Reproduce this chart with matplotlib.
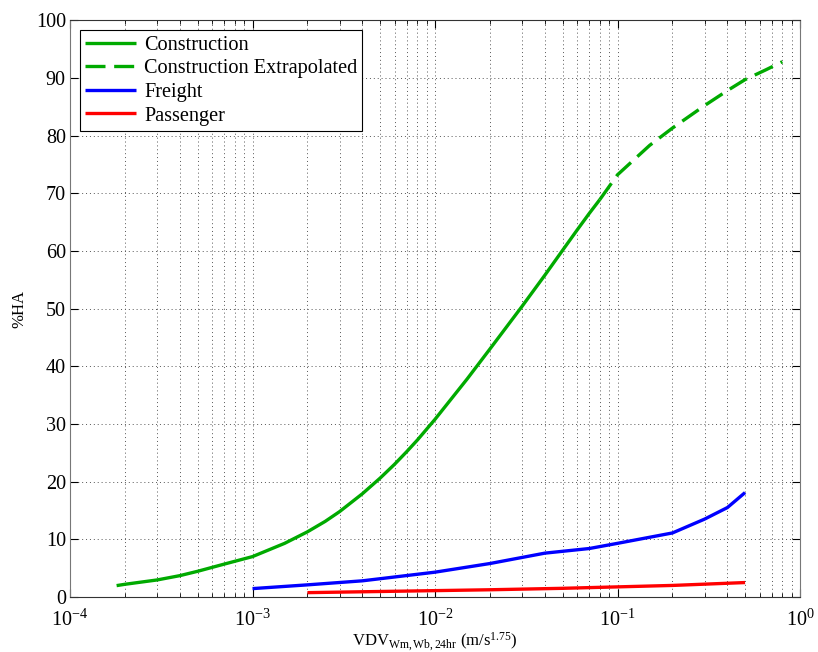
import matplotlib
matplotlib.use("Agg")
import matplotlib.pyplot as plt
from matplotlib.ticker import LogLocator, NullFormatter, MultipleLocator

plt.rcParams['font.family'] = ['Liberation Serif', 'DejaVu Serif']
plt.rcParams['mathtext.fontset'] = 'custom'
plt.rcParams['mathtext.rm'] = 'Liberation Serif'
plt.rcParams['mathtext.it'] = 'Liberation Serif:italic'

# Datos
x_const = [1.8e-4, 2e-4, 3e-4, 4e-4, 5e-4, 7e-4, 1e-3, 1.5e-3, 2e-3, 2.5e-3, 3e-3, 4e-3, 5e-3,
           6e-3, 7e-3, 8e-3, 9e-3, 1e-2, 1.5e-2, 2e-2, 3e-2, 4e-2, 5e-2, 6e-2, 7e-2, 8e-2]
y_const = [1.97, 2.2, 2.95, 3.7, 4.45, 5.7, 7.0, 9.3, 11.3, 13.1, 14.8, 17.9, 20.6,
           23.0, 25.2, 27.2, 29.1, 30.8, 37.8, 43.0, 50.4, 55.8, 60.1, 63.6, 66.5, 68.9]

x_extra = [8e-2, 0.1, 0.15, 0.2, 0.3, 0.4, 0.5, 0.65, 0.8]
y_extra = [68.9, 73.2, 78.3, 81.3, 85.2, 87.8, 89.7, 91.4, 92.8]

x_freight = [1e-3, 2e-3, 4e-3, 1e-2, 2e-2, 4e-2, 7e-2, 0.1, 0.2, 0.3, 0.4, 0.5]
y_freight = [1.45, 2.1, 2.8, 4.3, 5.8, 7.6, 8.4, 9.3, 11.1, 13.5, 15.5, 18.1]

x_pass = [2e-3, 5e-3, 1e-2, 2e-2, 5e-2, 0.1, 0.2, 0.5]
y_pass = [0.75, 0.95, 1.1, 1.25, 1.5, 1.75, 2.0, 2.5]

fig = plt.figure(figsize=(8.18, 6.52), dpi=100)
ax = fig.add_axes([0.0856, 0.0844, 0.8924, 0.8846])

verde = "#00aa00"
kw = dict(lw=2.4, solid_joinstyle="round", solid_capstyle="butt")
ax.plot(x_const, y_const, color=verde, label="Construction", **kw)
ax.plot(x_extra, y_extra, color=verde, dashes=(6, 2.6), label="Construction Extrapolated", lw=2.4)
ax.plot(x_freight, y_freight, color="#0000ff", label="Freight", **kw)
ax.plot(x_pass, y_pass, color="#ff0000", label="Passenger", **kw)

ax.set_xscale("log")
ax.set_xlim(1e-4, 1)
ax.set_ylim(0, 100)
ax.yaxis.set_major_locator(MultipleLocator(10))
ax.xaxis.set_major_locator(LogLocator(base=10, numticks=10))
ax.xaxis.set_minor_locator(LogLocator(base=10, subs=range(2, 10), numticks=20))
ax.xaxis.set_minor_formatter(NullFormatter())

ax.grid(True, which="major", linestyle=(0, (1, 3)), color="#555555", lw=0.7)
ax.grid(True, which="minor", axis="x", linestyle=(0, (1, 3)), color="#555555", lw=0.7)

ax.tick_params(which="both", direction="in", top=True, right=True, labelsize=14.5)
ax.tick_params(axis="x", which="major", pad=9)
ax.tick_params(axis="y", pad=3)
ax.tick_params(which="major", length=6)
ax.tick_params(which="minor", length=3)
for s in ax.spines.values():
    s.set_color("#333333")
ax.spines["left"].set_color("#777777")
ax.spines["right"].set_color("#777777")

ax.set_xlabel(r"VDV$_{\mathrm{Wm,Wb,24hr}}$ (m/s$^{1.75}$)", fontsize=12, labelpad=0)
ax.set_ylabel("%HA", fontsize=12, labelpad=6)

leg = ax.legend(loc="upper left", fontsize=14.6, fancybox=False, framealpha=1,
                edgecolor="black", handlelength=2.5, handletextpad=0.4,
                borderpad=0.25, labelspacing=0.22, borderaxespad=0.5)
leg.get_frame().set_linewidth(0.8)

fig.savefig("out.png", dpi=100)
